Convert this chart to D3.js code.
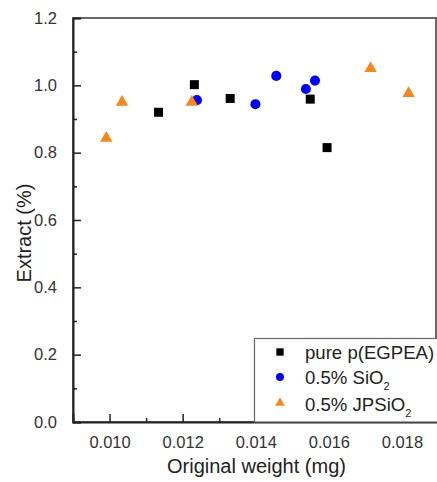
<!DOCTYPE html>
<html>
<head>
<meta charset="utf-8">
<script src="https://cdn.jsdelivr.net/npm/d3@7/dist/d3.min.js"></script>
<style>
  html, body { margin: 0; padding: 0; background: #fff; }
  svg { display: block; font-family: "Liberation Sans", Arial, sans-serif; }
</style>
</head>
<body>
<svg id="chart" width="437" height="482"></svg>
<script>
// ---- data ----
const pureX = [0.01134, 0.01232, 0.01330, 0.01549, 0.01595];
const pureY = [0.920, 1.002, 0.961, 0.959, 0.815];
const sio2X = [0.01239, 0.01399, 0.01456, 0.01537, 0.01562];
const sio2Y = [0.956, 0.944, 1.028, 0.989, 1.014];
const jpX = [0.00991, 0.01034, 0.01225, 0.01714, 0.01818];
const jpY = [0.843, 0.950, 0.950, 1.050, 0.976];
const seriesNames = ["pure p(EGPEA)", "0.5% SiO", "0.5% JPSiO"];
const seriesSubs = ["", "2", "2"];
const xTicks = [0.010, 0.012, 0.014, 0.016, 0.018];
const xMinor = [0.011, 0.013, 0.015, 0.017];
const yTicks = [0.0, 0.2, 0.4, 0.6, 0.8, 1.0, 1.2];
const yMinor = [0.1, 0.3, 0.5, 0.7, 0.9, 1.1];
const xTitle = "Original weight (mg)";
const yTitle = "Extract (%)";

// ---- layout ----
const L = 73, R = 436, T = 18, B = 422;
const svg = d3.select("#chart");
const x = d3.scaleLinear().domain([0.009, 0.01893]).range([L, R]);
const y = d3.scaleLinear().domain([0, 1.2]).range([B, T]);
const axisColor = "#222";
const textColor = "#333";

// frame
svg.append("rect").attr("x", L).attr("y", T).attr("width", R - L).attr("height", B - T)
  .attr("fill", "none").attr("stroke", "#444").attr("stroke-width", 1.6);

// x axis
const xAxis = svg.append("g").attr("transform", `translate(0,${B})`)
  .call(d3.axisBottom(x).tickValues(xTicks).tickFormat(d3.format(".3f")).tickSize(-8).tickPadding(14));
xAxis.select(".domain").attr("stroke", axisColor).attr("stroke-width", 2);
xAxis.selectAll(".tick line").attr("stroke", axisColor).attr("stroke-width", 1.5);
xAxis.selectAll("text").attr("font-size", 16.5).attr("fill", textColor).attr("font-family", "Liberation Sans, Arial, sans-serif");
svg.append("g").attr("transform", `translate(0,${B})`)
  .call(d3.axisBottom(x).tickValues(xMinor).tickFormat("").tickSize(-4))
  .call(g => g.select(".domain").remove())
  .selectAll(".tick line").attr("stroke", axisColor).attr("stroke-width", 1.5);

// y axis
const yAxis = svg.append("g").attr("transform", `translate(${L},0)`)
  .call(d3.axisLeft(y).tickValues(yTicks).tickFormat(d3.format(".1f")).tickSize(-8).tickPadding(16));
yAxis.select(".domain").attr("stroke", axisColor).attr("stroke-width", 2);
yAxis.selectAll(".tick line").attr("stroke", axisColor).attr("stroke-width", 1.5);
yAxis.selectAll("text").attr("font-size", 16.5).attr("fill", textColor).attr("font-family", "Liberation Sans, Arial, sans-serif");
svg.append("g").attr("transform", `translate(${L},0)`)
  .call(d3.axisLeft(y).tickValues(yMinor).tickFormat("").tickSize(-4))
  .call(g => g.select(".domain").remove())
  .selectAll(".tick line").attr("stroke", axisColor).attr("stroke-width", 1.5);

// titles
svg.append("text").attr("x", 256.5).attr("y", 473).attr("text-anchor", "middle")
  .attr("font-size", 20).attr("fill", "#222").text(xTitle);
svg.append("text").attr("transform", "translate(31,233) rotate(-90)").attr("text-anchor", "middle")
  .attr("font-size", 20).attr("fill", "#222").text(yTitle);

// points
const series = [
  { xs: pureX, ys: pureY, type: d3.symbolSquare, size: 81, color: "#000000" },
  { xs: sio2X, ys: sio2Y, type: d3.symbolCircle, size: 80, color: "#0000ff" },
  { xs: jpX, ys: jpY, type: d3.symbolTriangle, size: 66, color: "#f7861c" }
];
series.forEach(s => {
  svg.append("g").selectAll("path").data(s.xs.map((v, i) => [v, s.ys[i]])).join("path")
    .attr("transform", d => `translate(${x(d[0])},${y(d[1])})`)
    .attr("d", d3.symbol().type(s.type).size(s.size))
    .attr("fill", s.color);
});

// legend
const lg = svg.append("g");
lg.append("rect").attr("x", 254.5).attr("y", 338.5).attr("width", 190).attr("height", B - 338.5)
  .attr("fill", "#fff").attr("stroke", "#666").attr("stroke-width", 1.2);
const legSizes = [54, 50, 40];
const legY = [352, 377, 403];
const legBase = [358.5, 383.5, 410.5];
series.forEach((s, i) => {
  lg.append("path").attr("transform", `translate(280,${legY[i]})`)
    .attr("d", d3.symbol().type(s.type).size(legSizes[i])).attr("fill", s.color);
  const t = lg.append("text").attr("x", 305).attr("y", legBase[i]).attr("font-size", 18.6).attr("fill", "#222");
  t.append("tspan").text(seriesNames[i]);
  if (seriesSubs[i]) t.append("tspan").attr("dy", 6).attr("font-size", 11).text(seriesSubs[i]);
});
</script>
</body>
</html>
